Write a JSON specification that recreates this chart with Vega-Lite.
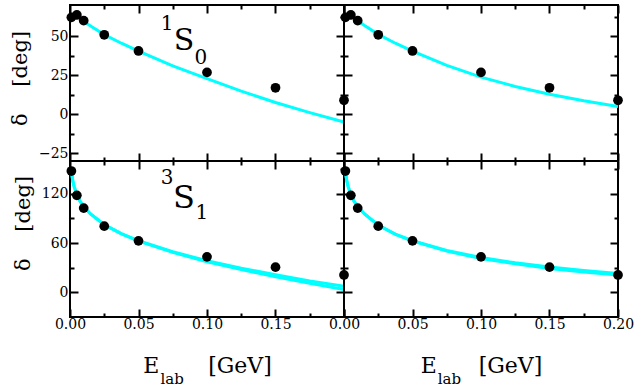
{
  "$schema": "https://vega.github.io/schema/vega-lite/v6.json",
  "padding": {"left": 8, "top": 3, "right": 0, "bottom": 0},
  "background": "white",
  "columns": 2,
  "spacing": 0,
  "bounds": "flush",
  "datasets": {
    "s0": [
      {"E": 0.001, "delta": 62.07}, {"E": 0.005, "delta": 63.63}, {"E": 0.01, "delta": 59.96},
      {"E": 0.025, "delta": 50.90}, {"E": 0.05, "delta": 40.54}, {"E": 0.1, "delta": 26.78},
      {"E": 0.15, "delta": 16.94}, {"E": 0.2, "delta": 8.94}
    ],
    "s1": [
      {"E": 0.001, "delta": 147.75}, {"E": 0.005, "delta": 118.18}, {"E": 0.01, "delta": 102.61},
      {"E": 0.025, "delta": 80.63}, {"E": 0.05, "delta": 62.77}, {"E": 0.1, "delta": 43.23},
      {"E": 0.15, "delta": 30.72}, {"E": 0.2, "delta": 21.22}
    ],
    "curves": [
      {"panel": "TL", "branch": "a", "E": 0.008, "delta": 61.0},
      {"panel": "TL", "branch": "a", "E": 0.01, "delta": 59.5},
      {"panel": "TL", "branch": "a", "E": 0.015, "delta": 56.5},
      {"panel": "TL", "branch": "a", "E": 0.025, "delta": 51.0},
      {"panel": "TL", "branch": "a", "E": 0.0375, "delta": 45.5},
      {"panel": "TL", "branch": "a", "E": 0.05, "delta": 40.5},
      {"panel": "TL", "branch": "a", "E": 0.075, "delta": 31.0},
      {"panel": "TL", "branch": "a", "E": 0.1, "delta": 22.8},
      {"panel": "TL", "branch": "a", "E": 0.125, "delta": 14.8},
      {"panel": "TL", "branch": "a", "E": 0.15, "delta": 7.5},
      {"panel": "TL", "branch": "a", "E": 0.175, "delta": 1.0},
      {"panel": "TL", "branch": "a", "E": 0.2, "delta": -5.0},

      {"panel": "TR", "branch": "a", "E": 0.008, "delta": 61.0},
      {"panel": "TR", "branch": "a", "E": 0.01, "delta": 59.8},
      {"panel": "TR", "branch": "a", "E": 0.015, "delta": 56.8},
      {"panel": "TR", "branch": "a", "E": 0.025, "delta": 51.2},
      {"panel": "TR", "branch": "a", "E": 0.0375, "delta": 45.5},
      {"panel": "TR", "branch": "a", "E": 0.05, "delta": 40.5},
      {"panel": "TR", "branch": "a", "E": 0.075, "delta": 31.3},
      {"panel": "TR", "branch": "a", "E": 0.1, "delta": 23.8},
      {"panel": "TR", "branch": "a", "E": 0.125, "delta": 17.8},
      {"panel": "TR", "branch": "a", "E": 0.15, "delta": 12.8},
      {"panel": "TR", "branch": "a", "E": 0.175, "delta": 8.6},
      {"panel": "TR", "branch": "a", "E": 0.2, "delta": 5.0},

      {"panel": "BL", "branch": "a", "E": 0.001, "delta": 148.0},
      {"panel": "BL", "branch": "a", "E": 0.002, "delta": 136.0},
      {"panel": "BL", "branch": "a", "E": 0.003, "delta": 129.0},
      {"panel": "BL", "branch": "a", "E": 0.005, "delta": 119.0},
      {"panel": "BL", "branch": "a", "E": 0.0075, "delta": 110.5},
      {"panel": "BL", "branch": "a", "E": 0.01, "delta": 104.5},
      {"panel": "BL", "branch": "a", "E": 0.015, "delta": 95.5},
      {"panel": "BL", "branch": "a", "E": 0.025, "delta": 82.5},
      {"panel": "BL", "branch": "a", "E": 0.0375, "delta": 71.5},
      {"panel": "BL", "branch": "a", "E": 0.05, "delta": 63.0},
      {"panel": "BL", "branch": "a", "E": 0.075, "delta": 49.5},
      {"panel": "BL", "branch": "a", "E": 0.1, "delta": 38.5},
      {"panel": "BL", "branch": "a", "E": 0.125, "delta": 29.5},
      {"panel": "BL", "branch": "a", "E": 0.15, "delta": 21.5},
      {"panel": "BL", "branch": "a", "E": 0.175, "delta": 14.0},
      {"panel": "BL", "branch": "a", "E": 0.2, "delta": 7.5},
      {"panel": "BL", "branch": "b", "E": 0.001, "delta": 148.0},
      {"panel": "BL", "branch": "b", "E": 0.002, "delta": 136.0},
      {"panel": "BL", "branch": "b", "E": 0.003, "delta": 129.0},
      {"panel": "BL", "branch": "b", "E": 0.005, "delta": 119.0},
      {"panel": "BL", "branch": "b", "E": 0.0075, "delta": 110.5},
      {"panel": "BL", "branch": "b", "E": 0.01, "delta": 104.5},
      {"panel": "BL", "branch": "b", "E": 0.015, "delta": 95.5},
      {"panel": "BL", "branch": "b", "E": 0.025, "delta": 82.3},
      {"panel": "BL", "branch": "b", "E": 0.0375, "delta": 71.2},
      {"panel": "BL", "branch": "b", "E": 0.05, "delta": 62.5},
      {"panel": "BL", "branch": "b", "E": 0.075, "delta": 48.7},
      {"panel": "BL", "branch": "b", "E": 0.1, "delta": 37.3},
      {"panel": "BL", "branch": "b", "E": 0.125, "delta": 27.8},
      {"panel": "BL", "branch": "b", "E": 0.15, "delta": 19.0},
      {"panel": "BL", "branch": "b", "E": 0.175, "delta": 11.0},
      {"panel": "BL", "branch": "b", "E": 0.2, "delta": 3.5},

      {"panel": "BR", "branch": "a", "E": 0.001, "delta": 148.0},
      {"panel": "BR", "branch": "a", "E": 0.002, "delta": 136.0},
      {"panel": "BR", "branch": "a", "E": 0.003, "delta": 129.0},
      {"panel": "BR", "branch": "a", "E": 0.005, "delta": 119.0},
      {"panel": "BR", "branch": "a", "E": 0.0075, "delta": 110.5},
      {"panel": "BR", "branch": "a", "E": 0.01, "delta": 104.5},
      {"panel": "BR", "branch": "a", "E": 0.015, "delta": 95.5},
      {"panel": "BR", "branch": "a", "E": 0.025, "delta": 82.0},
      {"panel": "BR", "branch": "a", "E": 0.0375, "delta": 71.0},
      {"panel": "BR", "branch": "a", "E": 0.05, "delta": 63.0},
      {"panel": "BR", "branch": "a", "E": 0.075, "delta": 51.0},
      {"panel": "BR", "branch": "a", "E": 0.1, "delta": 42.5},
      {"panel": "BR", "branch": "a", "E": 0.125, "delta": 36.0},
      {"panel": "BR", "branch": "a", "E": 0.15, "delta": 30.8},
      {"panel": "BR", "branch": "a", "E": 0.175, "delta": 26.5},
      {"panel": "BR", "branch": "a", "E": 0.2, "delta": 23.0},
      {"panel": "BR", "branch": "b", "E": 0.001, "delta": 148.0},
      {"panel": "BR", "branch": "b", "E": 0.002, "delta": 136.0},
      {"panel": "BR", "branch": "b", "E": 0.003, "delta": 129.0},
      {"panel": "BR", "branch": "b", "E": 0.005, "delta": 119.0},
      {"panel": "BR", "branch": "b", "E": 0.0075, "delta": 110.5},
      {"panel": "BR", "branch": "b", "E": 0.01, "delta": 104.5},
      {"panel": "BR", "branch": "b", "E": 0.015, "delta": 95.5},
      {"panel": "BR", "branch": "b", "E": 0.025, "delta": 81.8},
      {"panel": "BR", "branch": "b", "E": 0.0375, "delta": 70.7},
      {"panel": "BR", "branch": "b", "E": 0.05, "delta": 62.5},
      {"panel": "BR", "branch": "b", "E": 0.075, "delta": 50.2},
      {"panel": "BR", "branch": "b", "E": 0.1, "delta": 41.3},
      {"panel": "BR", "branch": "b", "E": 0.125, "delta": 34.7},
      {"panel": "BR", "branch": "b", "E": 0.15, "delta": 29.2},
      {"panel": "BR", "branch": "b", "E": 0.175, "delta": 24.8},
      {"panel": "BR", "branch": "b", "E": 0.2, "delta": 21.0}
    ]
  },
  "concat": [
    {
      "width": 274, "height": 156,
      "resolve": {"axis": {"x": "independent", "y": "independent"}},
      "layer": [
        {
          "data": {"name": "curves"},
          "transform": [{"filter": "datum.panel === 'TL'"}],
          "mark": {"type": "line", "color": "#00ffff", "strokeWidth": 3},
          "encoding": {
            "x": {"field": "E", "type": "quantitative", "scale": {"domain": [0, 0.2], "nice": false, "zero": false},
              "axis": {"orient": "top", "values": [0, 0.025, 0.05, 0.075, 0.1, 0.125, 0.15, 0.175, 0.2], "labels": false, "title": null,
                "tickSize": {"condition": {"test": "indexof([0.025, 0.075, 0.125, 0.175], datum.value) >= 0", "value": -4}, "value": -8}}},
            "y": {"field": "delta", "type": "quantitative", "scale": {"domain": [-30, 70], "nice": false, "zero": false},
              "axis": {"orient": "right", "values": [-25, -12.5, 0, 12.5, 25, 37.5, 50, 62.5], "labels": false, "title": null,
                "tickSize": {"condition": {"test": "indexof([-12.5, 12.5, 37.5, 62.5], datum.value) >= 0", "value": -4}, "value": -8}}},
            "detail": {"field": "branch"}
          }
        },
        {
          "data": {"name": "s0"},
          "mark": {"type": "circle", "size": 95, "color": "black", "opacity": 1},
          "encoding": {
            "x": {"field": "E", "type": "quantitative",
              "axis": {"orient": "bottom", "values": [0, 0.025, 0.05, 0.075, 0.1, 0.125, 0.15, 0.175, 0.2], "labels": false, "title": null,
                "tickSize": {"condition": {"test": "indexof([0.025, 0.075, 0.125, 0.175], datum.value) >= 0", "value": -4}, "value": -8}}},
            "y": {"field": "delta", "type": "quantitative",
              "axis": {"orient": "left", "values": [-25, -12.5, 0, 12.5, 25, 37.5, 50, 62.5],
                "labelExpr": "indexof([-25, 0, 25, 50], datum.value) >= 0 ? datum.label : ''",
                "labelPadding": 10, "title": "δ\u00a0\u00a0\u00a0\u00a0[deg]", "titleFontSize": 21, "titleY": 73, "titlePadding": 8,
                "tickSize": {"condition": {"test": "indexof([-12.5, 12.5, 37.5, 62.5], datum.value) >= 0", "value": -4}, "value": -8}}}
          }
        },
        {
          "data": {"values": [{"t": "1"}]},
          "mark": {"type": "text", "fontSize": 20, "align": "center", "baseline": "alphabetic", "color": "black"},
          "encoding": {"x": {"datum": 0.0708, "type": "quantitative", "axis": null}, "y": {"datum": 53.8, "type": "quantitative", "axis": null}, "text": {"field": "t"}}
        },
        {
          "data": {"values": [{"t": "S"}]},
          "mark": {"type": "text", "fontSize": 30, "align": "center", "baseline": "alphabetic", "color": "black"},
          "encoding": {"x": {"datum": 0.0832, "type": "quantitative", "axis": null}, "y": {"datum": 41.0, "type": "quantitative", "axis": null}, "text": {"field": "t"}}
        },
        {
          "data": {"values": [{"t": "0"}]},
          "mark": {"type": "text", "fontSize": 20, "align": "center", "baseline": "alphabetic", "color": "black"},
          "encoding": {"x": {"datum": 0.0955, "type": "quantitative", "axis": null}, "y": {"datum": 32.0, "type": "quantitative", "axis": null}, "text": {"field": "t"}}
        }
      ]
    },
    {
      "width": 274, "height": 156,
      "resolve": {"axis": {"x": "independent", "y": "independent"}},
      "layer": [
        {
          "data": {"name": "curves"},
          "transform": [{"filter": "datum.panel === 'TR'"}],
          "mark": {"type": "line", "color": "#00ffff", "strokeWidth": 3},
          "encoding": {
            "x": {"field": "E", "type": "quantitative", "scale": {"domain": [0, 0.2], "nice": false, "zero": false},
              "axis": {"orient": "top", "values": [0, 0.025, 0.05, 0.075, 0.1, 0.125, 0.15, 0.175, 0.2], "labels": false, "title": null,
                "tickSize": {"condition": {"test": "indexof([0.025, 0.075, 0.125, 0.175], datum.value) >= 0", "value": -4}, "value": -8}}},
            "y": {"field": "delta", "type": "quantitative", "scale": {"domain": [-30, 70], "nice": false, "zero": false},
              "axis": {"orient": "right", "values": [-25, -12.5, 0, 12.5, 25, 37.5, 50, 62.5], "labels": false, "title": null,
                "tickSize": {"condition": {"test": "indexof([-12.5, 12.5, 37.5, 62.5], datum.value) >= 0", "value": -4}, "value": -8}}},
            "detail": {"field": "branch"}
          }
        },
        {
          "data": {"name": "s0"},
          "mark": {"type": "circle", "size": 95, "color": "black", "opacity": 1},
          "encoding": {
            "x": {"field": "E", "type": "quantitative",
              "axis": {"orient": "bottom", "values": [0, 0.025, 0.05, 0.075, 0.1, 0.125, 0.15, 0.175, 0.2], "labels": false, "title": null,
                "tickSize": {"condition": {"test": "indexof([0.025, 0.075, 0.125, 0.175], datum.value) >= 0", "value": -4}, "value": -8}}},
            "y": {"field": "delta", "type": "quantitative",
              "axis": {"orient": "left", "values": [-25, -12.5, 0, 12.5, 25, 37.5, 50, 62.5], "labels": false, "title": null,
                "tickSize": {"condition": {"test": "indexof([-12.5, 12.5, 37.5, 62.5], datum.value) >= 0", "value": -4}, "value": -8}}}
          }
        }
      ]
    },
    {
      "width": 274, "height": 156,
      "resolve": {"axis": {"x": "independent", "y": "independent"}},
      "layer": [
        {
          "data": {"name": "curves"},
          "transform": [{"filter": "datum.panel === 'BL'"}],
          "mark": {"type": "line", "color": "#00ffff", "strokeWidth": 3},
          "encoding": {
            "x": {"field": "E", "type": "quantitative", "scale": {"domain": [0, 0.2], "nice": false, "zero": false},
              "axis": {"orient": "top", "values": [0, 0.025, 0.05, 0.075, 0.1, 0.125, 0.15, 0.175, 0.2], "labels": false, "title": null,
                "tickSize": {"condition": {"test": "indexof([0.025, 0.075, 0.125, 0.175], datum.value) >= 0", "value": -4}, "value": -8}}},
            "y": {"field": "delta", "type": "quantitative", "scale": {"domain": [-30, 160], "nice": false, "zero": false},
              "axis": {"orient": "right", "values": [0, 30, 60, 90, 120, 150], "labels": false, "title": null,
                "tickSize": {"condition": {"test": "indexof([30, 90, 150], datum.value) >= 0", "value": -4}, "value": -8}}},
            "detail": {"field": "branch"}
          }
        },
        {
          "data": {"name": "s1"},
          "mark": {"type": "circle", "size": 95, "color": "black", "opacity": 1},
          "encoding": {
            "x": {"field": "E", "type": "quantitative",
              "axis": {"orient": "bottom", "values": [0, 0.025, 0.05, 0.075, 0.1, 0.125, 0.15, 0.175, 0.2], "format": ".2f",
                "labelExpr": "indexof([0, 0.05, 0.1, 0.15], datum.value) >= 0 ? datum.label : ''",
                "labelPadding": 8, "title": "E\u00a0\u00a0\u00a0\u00a0\u00a0\u00a0\u00a0[GeV]", "titlePadding": 20,
                "tickSize": {"condition": {"test": "indexof([0.025, 0.075, 0.125, 0.175], datum.value) >= 0", "value": -4}, "value": -8}}},
            "y": {"field": "delta", "type": "quantitative",
              "axis": {"orient": "left", "values": [0, 30, 60, 90, 120, 150],
                "labelExpr": "indexof([0, 60, 120], datum.value) >= 0 ? datum.label : ''",
                "labelPadding": 10, "title": "δ\u00a0\u00a0\u00a0\u00a0[deg]", "titleFontSize": 21, "titleY": 62, "titlePadding": 8,
                "tickSize": {"condition": {"test": "indexof([30, 90, 150], datum.value) >= 0", "value": -4}, "value": -8}}}
          }
        },
        {
          "data": {"values": [{"t": "3"}]},
          "mark": {"type": "text", "fontSize": 20, "align": "center", "baseline": "alphabetic", "color": "black"},
          "encoding": {"x": {"datum": 0.0708, "type": "quantitative", "axis": null}, "y": {"datum": 131.5, "type": "quantitative", "axis": null}, "text": {"field": "t"}}
        },
        {
          "data": {"values": [{"t": "S"}]},
          "mark": {"type": "text", "fontSize": 32, "align": "center", "baseline": "alphabetic", "color": "black"},
          "encoding": {"x": {"datum": 0.0832, "type": "quantitative", "axis": null}, "y": {"datum": 102.3, "type": "quantitative", "axis": null}, "text": {"field": "t"}}
        },
        {
          "data": {"values": [{"t": "1"}]},
          "mark": {"type": "text", "fontSize": 20, "align": "center", "baseline": "alphabetic", "color": "black"},
          "encoding": {"x": {"datum": 0.0962, "type": "quantitative", "axis": null}, "y": {"datum": 88.9, "type": "quantitative", "axis": null}, "text": {"field": "t"}}
        },
        {
          "data": {"values": [{"t": "lab"}]},
          "mark": {"type": "text", "fontSize": 15, "align": "center", "baseline": "alphabetic", "color": "black", "dy": 67},
          "encoding": {"x": {"datum": 0.0745, "type": "quantitative", "axis": null}, "y": {"datum": -30, "type": "quantitative", "axis": null}, "text": {"field": "t"}}
        }
      ]
    },
    {
      "width": 274, "height": 156,
      "resolve": {"axis": {"x": "independent", "y": "independent"}},
      "layer": [
        {
          "data": {"name": "curves"},
          "transform": [{"filter": "datum.panel === 'BR'"}],
          "mark": {"type": "line", "color": "#00ffff", "strokeWidth": 3},
          "encoding": {
            "x": {"field": "E", "type": "quantitative", "scale": {"domain": [0, 0.2], "nice": false, "zero": false},
              "axis": {"orient": "top", "values": [0, 0.025, 0.05, 0.075, 0.1, 0.125, 0.15, 0.175, 0.2], "labels": false, "title": null,
                "tickSize": {"condition": {"test": "indexof([0.025, 0.075, 0.125, 0.175], datum.value) >= 0", "value": -4}, "value": -8}}},
            "y": {"field": "delta", "type": "quantitative", "scale": {"domain": [-30, 160], "nice": false, "zero": false},
              "axis": {"orient": "right", "values": [0, 30, 60, 90, 120, 150], "labels": false, "title": null,
                "tickSize": {"condition": {"test": "indexof([30, 90, 150], datum.value) >= 0", "value": -4}, "value": -8}}},
            "detail": {"field": "branch"}
          }
        },
        {
          "data": {"name": "s1"},
          "mark": {"type": "circle", "size": 95, "color": "black", "opacity": 1},
          "encoding": {
            "x": {"field": "E", "type": "quantitative",
              "axis": {"orient": "bottom", "values": [0, 0.025, 0.05, 0.075, 0.1, 0.125, 0.15, 0.175, 0.2], "format": ".2f",
                "labelExpr": "indexof([0, 0.05, 0.1, 0.15, 0.2], datum.value) >= 0 ? datum.label : ''",
                "labelPadding": 8, "title": "E\u00a0\u00a0\u00a0\u00a0\u00a0\u00a0[GeV]", "titlePadding": 20,
                "tickSize": {"condition": {"test": "indexof([0.025, 0.075, 0.125, 0.175], datum.value) >= 0", "value": -4}, "value": -8}}},
            "y": {"field": "delta", "type": "quantitative",
              "axis": {"orient": "left", "values": [0, 30, 60, 90, 120, 150], "labels": false, "title": null,
                "tickSize": {"condition": {"test": "indexof([30, 90, 150], datum.value) >= 0", "value": -4}, "value": -8}}}
          }
        },
        {
          "data": {"values": [{"t": "lab"}]},
          "mark": {"type": "text", "fontSize": 15, "align": "center", "baseline": "alphabetic", "color": "black", "dy": 67},
          "encoding": {"x": {"datum": 0.077, "type": "quantitative", "axis": null}, "y": {"datum": -30, "type": "quantitative", "axis": null}, "text": {"field": "t"}}
        }
      ]
    }
  ],
  "config": {
    "font": "DejaVu Serif",
    "view": {"stroke": "black", "strokeWidth": 2},
    "text": {"font": "DejaVu Serif"},
    "axis": {
      "domain": false, "grid": false,
      "tickColor": "black", "tickWidth": 2,
      "labelFont": "DejaVu Serif", "labelFontSize": 14, "labelColor": "black", "labelFlush": false, "labelOverlap": false,
      "titleFont": "DejaVu Serif", "titleFontSize": 22, "titleFontWeight": "normal", "titleColor": "black"
    }
  }
}
